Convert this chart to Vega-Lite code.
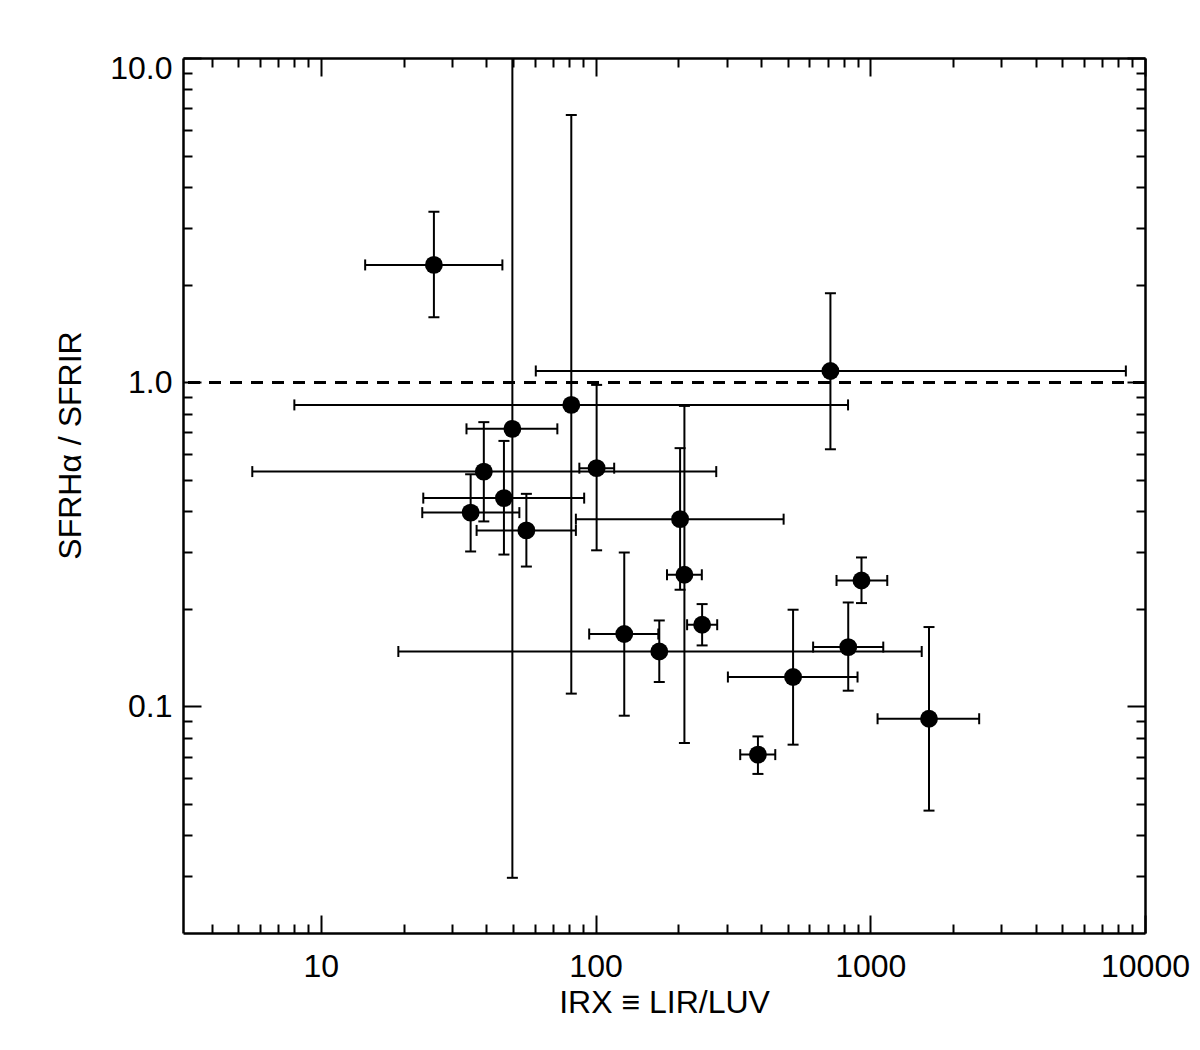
{
  "$schema": "https://vega.github.io/schema/vega-lite/v6.json",
  "width": 962,
  "height": 875,
  "autosize": {"type": "none"},
  "padding": {"left": 183, "top": 58, "right": 55, "bottom": 117},
  "background": "white",
  "config": {
    "view": {"stroke": null},
    "axis": {
      "grid": false,
      "domainColor": "#000000",
      "tickColor": "#000000",
      "labelColor": "#000000",
      "titleColor": "#000000",
      "labelFont": "Liberation Sans",
      "titleFont": "Liberation Sans",
      "labelFontSize": 32,
      "titleFontSize": 32,
      "titleFontWeight": "normal",
      "domainWidth": 2.5,
      "tickWidth": 2,
      "labelOverlap": false
    }
  },
  "data": {
    "values": [
      {"x": 25.8, "xlo": 14.5, "xhi": 45.8, "y": 2.30, "ylo": 1.586, "yhi": 3.357},
      {"x": 716, "xlo": 60.6, "xhi": 8518, "y": 1.083, "ylo": 0.621, "yhi": 1.881},
      {"x": 81.6, "xlo": 8.01, "xhi": 830, "y": 0.851, "ylo": 0.1095, "yhi": 6.67},
      {"x": 49.8, "xlo": 33.9, "xhi": 72.6, "y": 0.718, "ylo": 0.0296, "yhi": 10.5},
      {"x": 39.2, "xlo": 5.63, "xhi": 275, "y": 0.530, "ylo": 0.372, "yhi": 0.753},
      {"x": 100.9, "xlo": 87.3, "xhi": 116.9, "y": 0.543, "ylo": 0.303, "yhi": 0.981},
      {"x": 46.4, "xlo": 23.6, "xhi": 90.9, "y": 0.439, "ylo": 0.294, "yhi": 0.659},
      {"x": 35.1, "xlo": 23.4, "xhi": 52.8, "y": 0.396, "ylo": 0.3005, "yhi": 0.520},
      {"x": 56.0, "xlo": 36.9, "xhi": 84.8, "y": 0.349, "ylo": 0.270, "yhi": 0.4525},
      {"x": 203.1, "xlo": 84.8, "xhi": 483.7, "y": 0.378, "ylo": 0.229, "yhi": 0.626},
      {"x": 210.6, "xlo": 182, "xhi": 243.7, "y": 0.2547, "ylo": 0.0771, "yhi": 0.845},
      {"x": 929, "xlo": 753.6, "xhi": 1153, "y": 0.2446, "ylo": 0.2083, "yhi": 0.288},
      {"x": 244.3, "xlo": 215.4, "xhi": 277.2, "y": 0.1786, "ylo": 0.1542, "yhi": 0.2068},
      {"x": 127.2, "xlo": 94.8, "xhi": 169.2, "y": 0.1672, "ylo": 0.0936, "yhi": 0.2983},
      {"x": 170.6, "xlo": 19.15, "xhi": 1539, "y": 0.1477, "ylo": 0.1189, "yhi": 0.1841},
      {"x": 831.3, "xlo": 619.4, "xhi": 1115, "y": 0.1524, "ylo": 0.1118, "yhi": 0.2092},
      {"x": 523.6, "xlo": 303.2, "xhi": 898.7, "y": 0.1232, "ylo": 0.0762, "yhi": 0.1987},
      {"x": 1636, "xlo": 1063, "xhi": 2491, "y": 0.0916, "ylo": 0.0477, "yhi": 0.1757},
      {"x": 390, "xlo": 336.2, "xhi": 451, "y": 0.071, "ylo": 0.0619, "yhi": 0.0808}
    ]
  },
  "layer": [
    {
      "mark": {"type": "rule", "color": "#000000", "strokeWidth": 2, "strokeDash": [12, 9]},
      "encoding": {
        "y": {"datum": 1, "type": "quantitative", "scale": {"type": "log", "domain": [0.02, 10], "nice": false}, "axis": null}
      }
    },
    {
      "mark": {"type": "rule", "color": "#000000", "strokeWidth": 2, "clip": true},
      "encoding": {
        "x": {"field": "xlo", "type": "quantitative", "scale": {"type": "log", "domain": [3.15, 10000], "nice": false}, "axis": null},
        "x2": {"field": "xhi"},
        "y": {"field": "y", "type": "quantitative", "scale": {"type": "log", "domain": [0.02, 10], "nice": false}, "axis": null}
      }
    },
    {
      "mark": {"type": "rule", "color": "#000000", "strokeWidth": 2, "clip": true},
      "encoding": {
        "x": {"field": "x", "type": "quantitative", "scale": {"type": "log", "domain": [3.15, 10000], "nice": false}, "axis": null},
        "y": {"field": "ylo", "type": "quantitative", "scale": {"type": "log", "domain": [0.02, 10], "nice": false}, "axis": null},
        "y2": {"field": "yhi"}
      }
    },
    {
      "mark": {"type": "tick", "color": "#000000", "orient": "vertical", "size": 11, "thickness": 2, "opacity": 1, "clip": true},
      "encoding": {
        "x": {"field": "xlo", "type": "quantitative", "scale": {"type": "log", "domain": [3.15, 10000], "nice": false}, "axis": null},
        "y": {"field": "y", "type": "quantitative", "scale": {"type": "log", "domain": [0.02, 10], "nice": false}, "axis": null}
      }
    },
    {
      "mark": {"type": "tick", "color": "#000000", "orient": "vertical", "size": 11, "thickness": 2, "opacity": 1, "clip": true},
      "encoding": {
        "x": {"field": "xhi", "type": "quantitative", "scale": {"type": "log", "domain": [3.15, 10000], "nice": false}, "axis": null},
        "y": {"field": "y", "type": "quantitative", "scale": {"type": "log", "domain": [0.02, 10], "nice": false}, "axis": null}
      }
    },
    {
      "mark": {"type": "tick", "color": "#000000", "orient": "horizontal", "size": 11, "thickness": 2, "opacity": 1, "clip": true},
      "encoding": {
        "x": {"field": "x", "type": "quantitative", "scale": {"type": "log", "domain": [3.15, 10000], "nice": false}, "axis": null},
        "y": {"field": "ylo", "type": "quantitative", "scale": {"type": "log", "domain": [0.02, 10], "nice": false}, "axis": null}
      }
    },
    {
      "mark": {"type": "tick", "color": "#000000", "orient": "horizontal", "size": 11, "thickness": 2, "opacity": 1, "clip": true},
      "encoding": {
        "x": {"field": "x", "type": "quantitative", "scale": {"type": "log", "domain": [3.15, 10000], "nice": false}, "axis": null},
        "y": {"field": "yhi", "type": "quantitative", "scale": {"type": "log", "domain": [0.02, 10], "nice": false}, "axis": null}
      }
    },
    {
      "mark": {"type": "point", "filled": true, "color": "#000000", "size": 320, "opacity": 1, "strokeWidth": 0},
      "encoding": {
        "x": {"field": "x", "type": "quantitative", "scale": {"type": "log", "domain": [3.15, 10000], "nice": false}, "axis": null},
        "y": {"field": "y", "type": "quantitative", "scale": {"type": "log", "domain": [0.02, 10], "nice": false}, "axis": null}
      }
    },
    {
      "mark": {"type": "point", "opacity": 0},
      "encoding": {
        "x": {"field": "x", "type": "quantitative", "scale": {"type": "log", "domain": [3.15, 10000], "nice": false},
          "axis": {"orient": "bottom", "values": [10, 100, 1000, 10000], "labelExpr": "format(datum.value, 'd')", "ticks": false, "domain": true, "labelPadding": 18, "labelFlush": false, "title": "IRX ≡ LIR/LUV", "titlePadding": 5}},
        "y": {"field": "y", "type": "quantitative", "scale": {"type": "log", "domain": [0.02, 10], "nice": false},
          "axis": {"orient": "left", "values": [0.1, 1, 10], "labelExpr": "format(datum.value, '.1f')", "ticks": false, "domain": true, "labelPadding": 11, "labelFlush": true, "labelFlushOffset": 5, "title": "SFRHα / SFRIR", "titleX": -96, "titleY": 387}}
      }
    },
    {
      "mark": {"type": "point", "opacity": 0},
      "encoding": {
        "x": {"field": "x", "type": "quantitative", "scale": {"type": "log", "domain": [3.15, 10000], "nice": false},
          "axis": {"orient": "bottom", "values": [10, 100, 1000, 10000], "labels": false, "domain": false, "tickSize": -18, "title": null}},
        "y": {"field": "y", "type": "quantitative", "scale": {"type": "log", "domain": [0.02, 10], "nice": false},
          "axis": {"orient": "left", "values": [0.1, 1, 10], "labels": false, "domain": false, "tickSize": -18, "title": null}}
      }
    },
    {
      "mark": {"type": "point", "opacity": 0},
      "encoding": {
        "x": {"field": "x", "type": "quantitative", "scale": {"type": "log", "domain": [3.15, 10000], "nice": false},
          "axis": {"orient": "bottom", "values": [4, 5, 6, 7, 8, 9, 20, 30, 40, 50, 60, 70, 80, 90, 200, 300, 400, 500, 600, 700, 800, 900, 2000, 3000, 4000, 5000, 6000, 7000, 8000, 9000], "labels": false, "domain": false, "tickSize": -9, "title": null}},
        "y": {"field": "y", "type": "quantitative", "scale": {"type": "log", "domain": [0.02, 10], "nice": false},
          "axis": {"orient": "left", "values": [0.03, 0.04, 0.05, 0.06, 0.07, 0.08, 0.09, 0.2, 0.3, 0.4, 0.5, 0.6, 0.7, 0.8, 0.9, 2, 3, 4, 5, 6, 7, 8, 9], "labels": false, "domain": false, "tickSize": -9, "title": null}}
      }
    },
    {
      "mark": {"type": "point", "opacity": 0},
      "encoding": {
        "x": {"field": "x", "type": "quantitative", "scale": {"type": "log", "domain": [3.15, 10000], "nice": false},
          "axis": {"orient": "top", "values": [10, 100, 1000, 10000], "labels": false, "domain": true, "tickSize": -18, "title": null}},
        "y": {"field": "y", "type": "quantitative", "scale": {"type": "log", "domain": [0.02, 10], "nice": false},
          "axis": {"orient": "right", "values": [0.1, 1, 10], "labels": false, "domain": true, "tickSize": -18, "title": null}}
      }
    },
    {
      "mark": {"type": "point", "opacity": 0},
      "encoding": {
        "x": {"field": "x", "type": "quantitative", "scale": {"type": "log", "domain": [3.15, 10000], "nice": false},
          "axis": {"orient": "top", "values": [4, 5, 6, 7, 8, 9, 20, 30, 40, 50, 60, 70, 80, 90, 200, 300, 400, 500, 600, 700, 800, 900, 2000, 3000, 4000, 5000, 6000, 7000, 8000, 9000], "labels": false, "domain": false, "tickSize": -9, "title": null}},
        "y": {"field": "y", "type": "quantitative", "scale": {"type": "log", "domain": [0.02, 10], "nice": false},
          "axis": {"orient": "right", "values": [0.03, 0.04, 0.05, 0.06, 0.07, 0.08, 0.09, 0.2, 0.3, 0.4, 0.5, 0.6, 0.7, 0.8, 0.9, 2, 3, 4, 5, 6, 7, 8, 9], "labels": false, "domain": false, "tickSize": -9, "title": null}}
      }
    }
  ],
  "resolve": {"axis": {"x": "independent", "y": "independent"}}
}
